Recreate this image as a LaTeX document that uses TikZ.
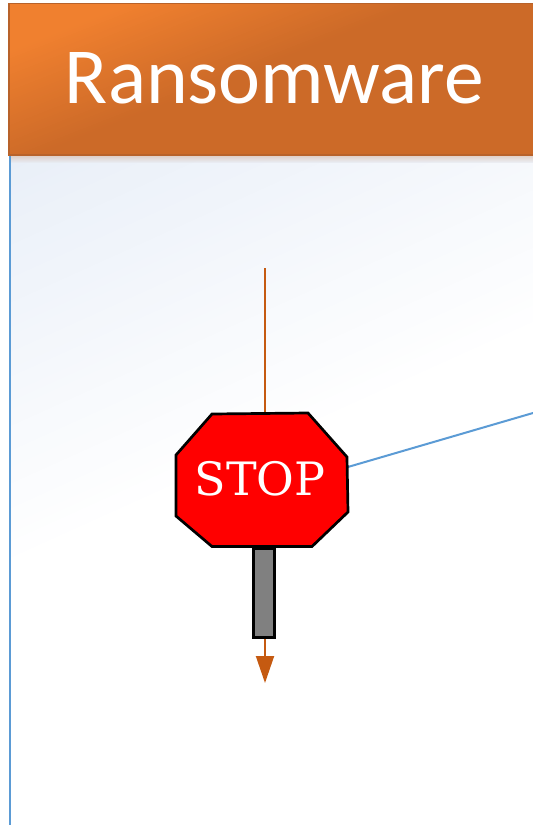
\documentclass[tikz,border=0pt]{standalone}
\usepackage{fontspec}
\setmainfont{Carlito}
\newfontfamily\signfont{DejaVu Serif}
\usetikzlibrary{arrows.meta}
\definecolor{hdrA}{HTML}{F0802F}
\definecolor{hdrB}{HTML}{CC6A28}
\definecolor{hdrEdge}{HTML}{B8622A}
\definecolor{panA}{HTML}{E9EFF8}
\definecolor{panLine}{HTML}{5B9BD5}
\definecolor{blueLine}{HTML}{5B9BD5}
\definecolor{orangeLine}{HTML}{C55A11}
\tikzset{
  signedge/.style={draw=black,line width=2.7pt,line join=miter},
  bluelink/.style={draw=blueLine,line width=2pt},
  orangelink/.style={draw=orangeLine,line width=1.9pt,-{Triangle[width=18pt,length=27pt]}},
  titletext/.style={anchor=base,text=white,font=\fontsize{79.5}{79.5}\selectfont,inner sep=0pt},
  signtext/.style={anchor=base,text=white,font=\signfont\fontsize{46}{46}\selectfont,inner sep=0pt}
}
\begin{document}
\begin{tikzpicture}[x=1pt,y=-1pt]
\useasboundingbox (0,0) rectangle (533,825);
\fill[white] (0,0) rectangle (533,825);
% panel
\begin{scope}
\clip (9,155) rectangle (533,825);
\fill[panA] (0,0) rectangle (533,825);
\foreach \i in {1,...,50}{
  \pgfmathsetmacro{\t}{145+7.5*\i}
  \pgfmathsetmacro{\p}{100-2*\i}
  \fill[color=panA!\p!white,rotate=-65.7] (\t,-1500) rectangle (3000,1500);
}
\end{scope}
\foreach \i in {0,...,7}{
  \pgfmathsetmacro{\p}{36-4.5*\i}
  \fill[hdrEdge!\p!panA,opacity=0.7] (9,155+\i) rectangle (533,156+\i);
}
\draw[panLine,line width=2pt] (9.5,155) -- (9.5,825);
% header
\begin{scope}
\clip (9,3) rectangle (533,155);
\fill[hdrA] (0,0) rectangle (533,160);
\foreach \i in {1,...,50}{
  \pgfmathsetmacro{\t}{50+2.14*\i}
  \pgfmathsetmacro{\p}{100-2*\i}
  \fill[color=hdrA!\p!hdrB,rotate=-68.6] (\t,-1500) rectangle (3000,1500);
}
\end{scope}
\draw[hdrEdge,line width=1.5pt] (533,3.5) -- (9,3.5) -- (9,155) -- (533,155);
\node[titletext] (title) at (274.5,103) {Ransomware};
% connectors
\coordinate (ltop) at (265,268);
\coordinate (lbot) at (265,683);
\coordinate (rend) at (533,413);
\coordinate (sign) at (340,469.3);
\draw[orangelink] (ltop) -- (lbot);
\draw[bluelink] (sign) -- (rend);
% stop sign
\node[draw=black,fill=gray,line width=2.7pt,minimum width=21pt,minimum height=89pt,inner sep=0pt,anchor=north] (post) at (263.7,547) {};
\draw[signedge,fill=red] (212,414) -- (308,413) -- (347,457) -- (348,512) -- (312,546.5) -- (212,546.5) -- (176,516) -- (176,455) -- cycle;
\node[signtext] (stop) at (260,495) {STOP};
\end{tikzpicture}
\end{document}
